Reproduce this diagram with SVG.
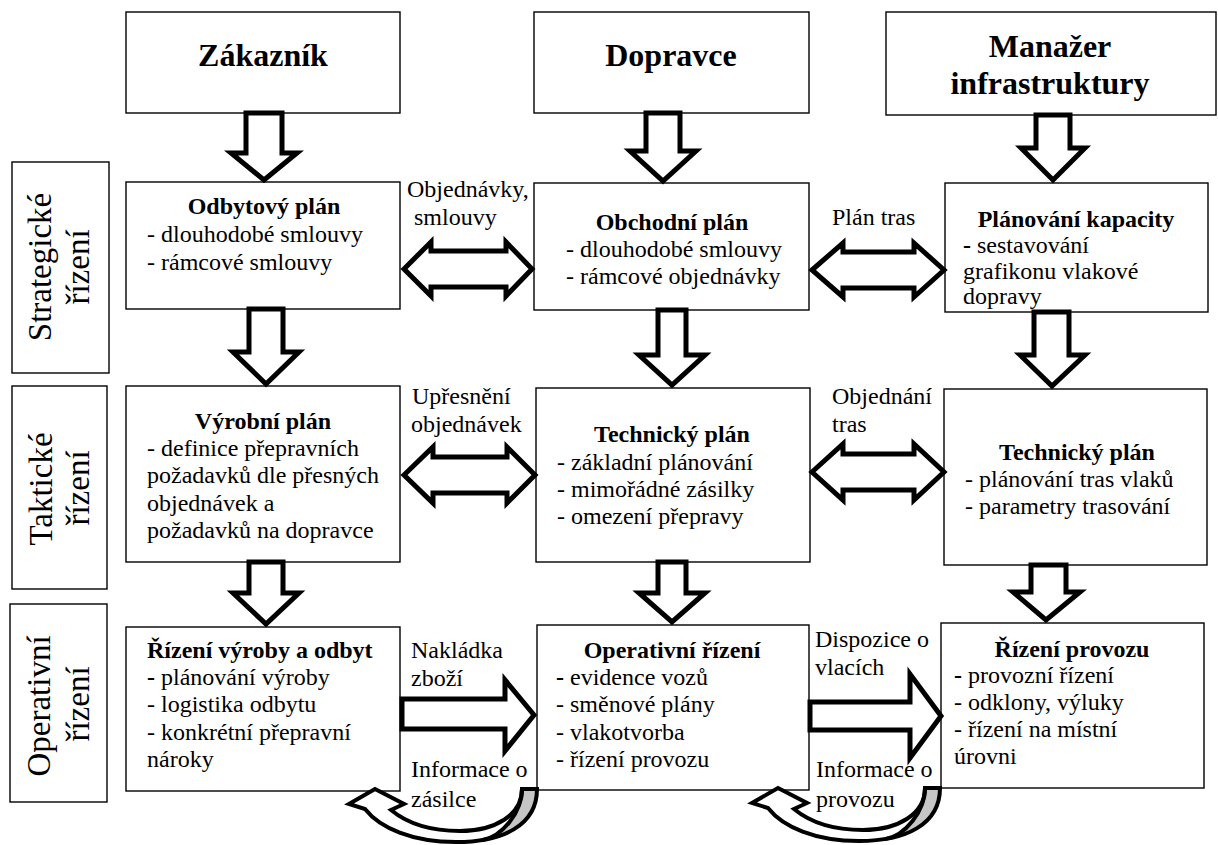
<svg xmlns="http://www.w3.org/2000/svg" xmlns:xlink="http://www.w3.org/1999/xlink" width="1218" height="845" viewBox="0 0 1218 845">
<style>
.box{fill:#fff;stroke:#000;stroke-width:1.4}
.arr{fill:#fff;stroke:#000;stroke-width:5;stroke-linejoin:miter;stroke-miterlimit:10}
.t{font-family:"Liberation Serif","Times New Roman",serif;font-size:24px;fill:#000}
.b{font-weight:bold}
.c{text-anchor:middle}
.h{font-family:"Liberation Serif","Times New Roman",serif;font-size:32px;font-weight:bold;text-anchor:middle;fill:#000}
.v{font-family:"Liberation Serif","Times New Roman",serif;font-size:33px;text-anchor:middle;fill:#000}
.cwf{fill:#fff;stroke:none}
.cws{fill:none;stroke:#000;stroke-width:4;stroke-linejoin:miter;stroke-miterlimit:10}
.gray{fill:#c6c6c6;stroke:none}
</style>
<defs>
<g id="curved">
<path class="cwf" d="M537 789 C537 826 502 842 456 842 C412 842 380 828 365 809 L349 804 L375 789 L404 804 L391 810 C408 824 432 831 460 831 C495 831 522 815 522 789 Z"/>
<path class="gray" d="M522 789 L537 789 C537 818.6 514.6 834.8 482.1 840.1 C502.1 836.8 522 812 522 789 Z"/>
<path class="cws" d="M537 789 C537 826 502 842 456 842 C412 842 380 828 365 809 L349 804 L375 789 L404 804 L391 810 C408 824 432 831 460 831 C495 831 522 815 522 789 Z"/>
<path class="cws" d="M522 789 C522 812 502.1 836.8 482.1 840.1"/>
</g>
</defs>
<rect width="1218" height="845" fill="#fff"/>

<g id="level-strategic">
<rect class="box" x="12" y="162" width="97" height="211"/>
<text class="v" transform="translate(51 267) rotate(-90)">Strategické</text>
<text class="v" transform="translate(89 267) rotate(-90)">řízení</text>
</g>
<g id="level-tactical">
<rect class="box" x="12" y="386" width="95" height="203"/>
<text class="v" transform="translate(52 489) rotate(-90)">Taktické</text>
<text class="v" transform="translate(89 488) rotate(-90)">řízení</text>
</g>
<g id="level-operative">
<rect class="box" x="10" y="604" width="97" height="198"/>
<text class="v" transform="translate(50 706) rotate(-90)">Operativní</text>
<text class="v" transform="translate(89 704) rotate(-90)">řízení</text>
</g>

<g id="zakaznik">
<rect class="box" x="126" y="12" width="274" height="101"/>
<text class="h" x="263" y="66">Zákazník</text>
</g>
<g id="dopravce">
<rect class="box" x="534" y="12" width="275" height="101"/>
<text class="h" x="671" y="66">Dopravce</text>
</g>
<g id="manazer">
<rect class="box" x="886" y="12" width="330" height="103"/>
<text class="h" x="1050" y="57">Manažer</text>
<text class="h" x="1050" y="94">infrastruktury</text>
</g>

<g id="odbytovy-plan">
<rect class="box" x="126" y="182" width="274" height="127"/>
<text class="t b c" x="264" y="214">Odbytový plán</text>
<text class="t" x="147" y="242">- dlouhodobé smlouvy</text>
<text class="t" x="147" y="270">- rámcové smlouvy</text>
</g>
<g id="obchodni-plan">
<rect class="box" x="534" y="183" width="275" height="127"/>
<text class="t b c" x="672" y="230">Obchodní plán</text>
<text class="t" x="566" y="257">- dlouhodobé smlouvy</text>
<text class="t" x="566" y="284">- rámcové objednávky</text>
</g>
<g id="planovani-kapacity">
<rect class="box" x="945" y="183" width="263" height="129"/>
<text class="t b c" x="1076" y="227">Plánování kapacity</text>
<text class="t" x="963" y="253"><tspan class="b">-</tspan> sestavování</text>
<text class="t" x="963" y="279">grafikonu vlakové</text>
<text class="t" x="963" y="304">dopravy</text>
</g>

<g id="vyrobni-plan">
<rect class="box" x="126" y="386" width="274" height="176"/>
<text class="t b c" x="263" y="429">Výrobní plán</text>
<text class="t" x="147" y="456">- definice přepravních</text>
<text class="t" x="147" y="483">požadavků dle přesných</text>
<text class="t" x="147" y="511">objednávek a</text>
<text class="t" x="147" y="538">požadavků na dopravce</text>
</g>
<g id="technicky-plan-dopravce">
<rect class="box" x="536" y="388" width="274" height="174"/>
<text class="t b c" x="672" y="442">Technický plán</text>
<text class="t" x="557" y="470">- základní plánování</text>
<text class="t" x="557" y="497">- mimořádné zásilky</text>
<text class="t" x="557" y="524">- omezení přepravy</text>
</g>
<g id="technicky-plan-infra">
<rect class="box" x="944" y="389" width="263" height="176"/>
<text class="t b c" x="1077" y="460">Technický plán</text>
<text class="t" x="965" y="487">- plánování tras vlaků</text>
<text class="t" x="965" y="514">- parametry trasování</text>
</g>

<g id="rizeni-vyroby">
<rect class="box" x="126" y="627" width="274" height="164"/>
<text class="t b" x="147" y="658">Řízení výroby a odbyt</text>
<text class="t" x="147" y="685"><tspan class="b">-</tspan> plánování výroby</text>
<text class="t" x="147" y="712">- logistika odbytu</text>
<text class="t" x="147" y="740">- konkrétní přepravní</text>
<text class="t" x="147" y="767">nároky</text>
</g>
<g id="operativni-rizeni">
<rect class="box" x="537" y="625" width="272" height="165"/>
<text class="t b c" x="672" y="658">Operativní řízení</text>
<text class="t" x="556" y="685"><tspan class="b">-</tspan> evidence vozů</text>
<text class="t" x="556" y="712">- směnové plány</text>
<text class="t" x="556" y="740">- vlakotvorba</text>
<text class="t" x="556" y="767">- řízení provozu</text>
</g>
<g id="rizeni-provozu">
<rect class="box" x="941" y="623" width="263" height="165"/>
<text class="t b c" x="1072" y="657">Řízení provozu</text>
<text class="t" x="954" y="683"><tspan class="b">-</tspan> provozní řízení</text>
<text class="t" x="954" y="710">- odklony, výluky</text>
<text class="t" x="954" y="737">- řízení na místní</text>
<text class="t" x="954" y="764">úrovni</text>
</g>

<g id="connectors">
<polygon class="arr" points="246,113 282,113 282,153 297,153 264,180 231,153 246,153"/>
<polygon class="arr" points="646,113 680,113 680,151 696,151 663,181 630,151 646,151"/>
<polygon class="arr" points="1036,115 1070,115 1070,148 1085,148 1053,180 1021,148 1036,148"/>

<polygon class="arr" points="249,309 283,309 283,352 299,352 266,384 233,352 249,352"/>
<polygon class="arr" points="658,310 686,310 686,355 705,355 672,385 639,355 658,355"/>
<polygon class="arr" points="1034,312 1069,312 1069,355 1085,355 1052,386 1020,355 1034,355"/>

<polygon class="arr" points="249,562 283,562 283,593 299,593 266,624 233,593 249,593"/>
<polygon class="arr" points="658,562 686,562 686,593 705,593 672,622 639,593 658,593"/>
<polygon class="arr" points="1031,565 1066,565 1066,592 1080,592 1046,620 1013,592 1031,592"/>

<polygon class="arr" points="404,269 431,242 431,251 506,251 506,242 532,269 506,296 506,287 431,287 431,296"/>
<polygon class="arr" points="812,270 843,243 843,252 914,252 914,243 944,270 914,297 914,288 843,288 843,297"/>
<polygon class="arr" points="404,475 433,447 433,457 507,457 507,447 535,475 507,503 507,493 433,493 433,503"/>
<polygon class="arr" points="812,472 843,444 843,454 914,454 914,444 944,472 914,500 914,490 843,490 843,500"/>

<polygon class="arr" points="402,699 505,699 505,680 534,715 505,751 505,729 402,729"/>
<polygon class="arr" points="810,702 910,702 910,674 941,716 910,758 910,730 810,730"/>

<use xlink:href="#curved" href="#curved"/>
<use xlink:href="#curved" href="#curved" transform="translate(403 -1)"/>

<text class="t" x="407" y="197">Objednávky,</text>
<text class="t" x="414" y="225">smlouvy</text>
<text class="t" x="832" y="225">Plán tras</text>
<text class="t" x="412" y="404">Upřesnění</text>
<text class="t" x="411" y="432">objednávek</text>
<text class="t" x="832" y="404">Objednání</text>
<text class="t" x="832" y="432">tras</text>
<text class="t" x="411" y="658">Nakládka</text>
<text class="t" x="411" y="686">zboží</text>
<text class="t" x="411" y="777">Informace o</text>
<text class="t" x="411" y="807">zásilce</text>
<text class="t" x="815" y="647">Dispozice o</text>
<text class="t" x="815" y="675">vlacích</text>
<text class="t" x="816" y="777">Informace o</text>
<text class="t" x="816" y="807">provozu</text>
</g>
</svg>
